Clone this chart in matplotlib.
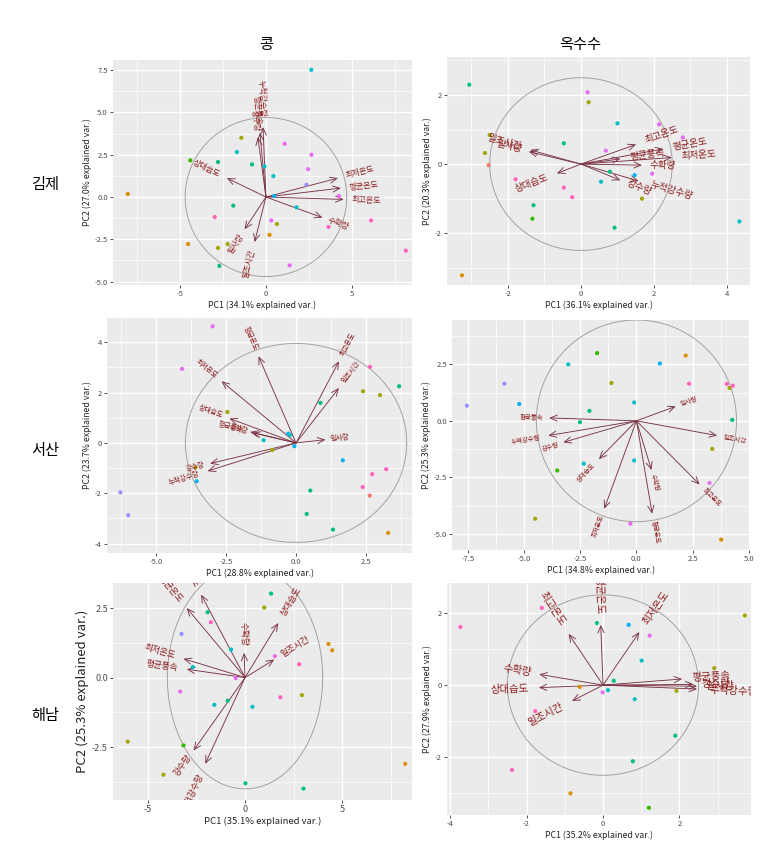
import numpy as np
import matplotlib
matplotlib.use('Agg')
import matplotlib.pyplot as plt
from matplotlib.ticker import AutoMinorLocator

plt.rcParams['font.family'] = ['Noto Sans CJK KR', 'DejaVu Sans']

# 그룹 색 (ggplot hue 팔레트)
grp_colors = ['#F8766D', '#D89000', '#A3A500', '#39B600', '#00BF7D',
              '#00BFC4', '#00B0F6', '#9590FF', '#E76BF3', '#FF62BC']

# ---------------- 김제 / 콩 ----------------
gj_soy_pc1 = [2.64, -1.43, 1.09, -1.69, 2.65, -4.40, -2.79, -0.81, -0.08, 0.43, 2.46, 2.36, 0.48, 4.24,
              -8.04, -1.90, 1.78, -2.98, 0.31, 0.64, 0.21, 6.12, 3.64, 8.14, -4.53, -2.79, -2.23, -2.71, 1.38]
gj_soy_pc2 = [7.52, 3.50, 3.15, 2.66, 2.50, 2.17, 2.07, 1.93, 1.81, 1.24, 1.65, 0.73, 0.06, 0.06,
              0.18, -0.51, -0.61, -1.18, -1.38, -1.60, -2.24, -1.38, -1.77, -3.17, -2.78, -3.01, -2.78, -4.07, -4.04]
gj_soy_grp = [5, 2, 8, 5, 8, 3, 4, 4, 5, 5, 8, 7, 6, 8,
              1, 4, 5, 9, 8, 2, 1, 9, 9, 9, 1, 2, 2, 4, 8]
gj_soy_var = ['최저온도', '평균온도', '최고온도', '수확량', '상대습도', '일사량', '일조시간', '누적강수량', '강수량', '평균풍속']
gj_soy_vx = [4.19, 4.36, 4.52, 3.29, -2.27, -1.24, -0.66, -0.17, -0.47, -0.35]
gj_soy_vy = [1.12, 0.53, -0.14, -1.22, 1.12, -1.91, -2.66, 4.13, 3.54, 3.80]

# ---------------- 김제 / 옥수수 ----------------
gj_corn_pc1 = [-3.06, 0.18, 0.21, 1.00, 2.14, 2.79, -0.47, 0.68, -2.50, -2.63, -2.53, -1.79,
               -0.47, -0.24, 0.79, 0.55, 1.47, 1.95, 1.67, -1.30, -1.33, 0.92, 4.34, -3.26]
gj_corn_pc2 = [2.30, 2.08, 1.79, 1.18, 1.15, 0.77, 0.60, 0.39, 0.84, 0.32, -0.03, -0.44,
               -0.68, -0.96, -0.22, -0.51, -0.32, -0.28, -1.00, -1.19, -1.58, -1.84, -1.66, -3.22]
gj_corn_grp = [4, 8, 2, 5, 8, 8, 4, 8, 2, 2, 0, 9,
               9, 9, 4, 5, 6, 8, 2, 4, 3, 4, 5, 1]
gj_corn_var = ['최고온도', '평균온도', '최저온도', '평균풍속', '수확량', '강수량', '누적강수량', '상대습도', '일사량', '일조시간']
gj_corn_vx = [1.51, 2.26, 2.49, 1.08, 1.67, 1.08, 1.58, -0.66, -1.43, -1.39]
gj_corn_vy = [0.57, 0.44, 0.19, 0.15, -0.03, -0.47, -0.49, -0.27, 0.36, 0.41]

# ---------------- 서산 / 콩 ----------------
ss_soy_pc1 = [-2.98, -4.07, -6.27, -5.99, -2.45, -0.28, -0.22, -1.16, -0.06, -0.85, -3.59, -3.55, 0.87,
              2.64, 2.39, 3.00, 3.68, 1.67, 3.22, 2.72, 2.38, 2.63, 0.51, 0.38, 1.32, 3.29]
ss_soy_pc2 = [4.63, 2.94, -1.96, -2.87, 1.23, 0.37, 0.31, 0.11, -0.13, -0.28, -0.97, -1.52, 1.59,
              3.02, 2.05, 1.90, 2.25, -0.69, -1.04, -1.24, -1.75, -2.09, -1.89, -2.82, -3.44, -3.57]
ss_soy_grp = [8, 8, 7, 7, 2, 6, 5, 5, 6, 2, 2, 6, 4,
              9, 2, 2, 4, 6, 9, 9, 9, 0, 4, 4, 4, 1]
ss_soy_var = ['평균온도', '최고온도', '일조시간', '최저온도', '상대습도', '평균풍속', '수확량', '일사량', '강수량', '누적강수량']
ss_soy_vx = [-1.34, 1.53, 1.53, -2.66, -2.38, -1.64, -1.55, 1.05, -3.07, -3.16]
ss_soy_vy = [3.44, 3.24, 2.18, 2.45, 0.97, 0.44, 0.40, 0.13, -0.82, -1.12]

# ---------------- 서산 / 옥수수 ----------------
ss_corn_pc1 = [-7.54, -5.87, -5.21, -3.03, -1.75, -1.11, 1.04, -0.10, -2.09, -2.51, -2.34, -3.52,
               -0.10, -4.50, -0.27, 2.19, 2.34, 4.02, 4.14, 4.29, 4.26, 3.37, 3.25, 3.77]
ss_corn_pc2 = [0.67, 1.64, 0.74, 2.49, 2.99, 1.67, 2.53, 0.81, 0.44, -0.06, -1.89, -2.19,
               -1.75, -4.32, -4.54, 2.88, 1.64, 1.63, 1.45, 1.55, 0.04, -1.24, -2.74, -5.24]
ss_corn_grp = [7, 7, 6, 5, 3, 2, 6, 5, 4, 4, 5, 3,
               5, 2, 8, 1, 9, 9, 2, 9, 4, 2, 8, 1]
ss_corn_var = ['일사량', '일조시간', '최고온도', '수확량', '평균온도', '최저온도', '상대습도', '강수량', '누적강수량', '평균풍속']
ss_corn_vx = [1.75, 3.59, 2.81, 0.67, 0.70, -1.43, -1.67, -3.25, -3.92, -3.88]
ss_corn_vy = [0.64, -0.65, -2.81, -2.17, -4.10, -3.88, -1.69, -0.95, -0.65, 0.13]

# ---------------- 해남 / 콩 ----------------
hn_soy_pc1 = [1.34, 0.99, -1.93, -1.76, -0.72, -3.27, -2.69, -0.48, -3.34, -1.58, -0.89, 0.38,
              1.54, 2.79, 1.82, 2.93, 4.30, 4.49, -6.04, -3.17, -4.20, 0.02, 3.01, 8.25]
hn_soy_pc2 = [3.02, 2.52, 2.35, 1.99, 1.01, 1.57, 0.38, -0.02, -0.50, -0.98, -0.83, -1.05,
              0.77, 0.48, -0.71, -0.63, 1.21, 0.98, -2.30, -2.44, -3.49, -3.80, -3.99, -3.10]
hn_soy_grp = [4, 2, 4, 9, 5, 7, 5, 8, 8, 5, 4, 5,
              8, 9, 9, 2, 1, 1, 2, 3, 2, 4, 4, 1]
hn_soy_var = ['평균온도', '최고온도', '상대습도', '수확량', '일조시간', '최저온도', '평균풍속', '강수량', '누적강수량']
hn_soy_vx = [-3.00, -2.26, 1.71, -0.05, 1.51, -3.17, -3.00, -2.65, -2.05]
hn_soy_vy = [2.50, 2.98, 1.96, 0.89, 0.65, 0.68, 0.30, -2.62, -3.10]

# ---------------- 해남 / 옥수수 ----------------
hn_corn_pc1 = [-3.73, -1.60, -0.16, 0.67, 1.22, 1.01, 0.28, 0.13, -0.01, -0.61, -1.77, 0.83,
               1.89, 0.78, 1.20, -2.38, -0.85, 2.91, 1.92, 3.71]
hn_corn_pc2 = [1.61, 2.14, 1.72, 1.67, 1.37, 0.68, 0.12, -0.14, -0.20, -0.05, -0.72, -0.39,
               -1.40, -2.11, -3.40, -2.35, -3.00, 0.47, -0.16, 1.93]
hn_corn_grp = [9, 9, 4, 6, 8, 5, 4, 5, 8, 1, 9, 5,
               4, 4, 3, 9, 1, 2, 2, 2]
hn_corn_var = ['최고온도', '평균온도', '최저온도', '수확량', '상대습도', '일조시간', '평균풍속', '강수량', '일사량', '누적강수량']
hn_corn_vx = [-0.90, -0.06, 0.95, -1.67, -1.68, -0.81, 2.07, 2.37, 2.46, 2.46]
hn_corn_vy = [1.42, 1.67, 1.47, 0.30, -0.07, -0.44, 0.17, 0.02, -0.03, -0.11]

# 설명 분산 (%) 및 원 반지름
pc1_pct = [34.1, 36.1, 28.8, 34.8, 35.1, 35.2]
pc2_pct = [27.0, 20.3, 23.7, 25.3, 25.3, 27.9]
circle_r = [4.7, 2.5, 3.95, 4.45, 4.0, 2.5]

row_names = ['김제', '서산', '해남']
col_names = ['콩', '옥수수']

W, H = 770, 855
fig = plt.figure(figsize=(W / 100, H / 100), dpi=100)

# 패널 위치 (픽셀: 좌, 우, 상, 하) 와 축 설정
panels = [
    dict(box=(113, 412, 60, 285), xlim=(-8.9, 8.5), ylim=(-5.2, 8.1),
         xt=[-5, 0, 5], xtl=['-5', '0', '5'],
         yt=[-5, -2.5, 0, 2.5, 5, 7.5], ytl=['-5.0', '-2.5', '0.0', '2.5', '5.0', '7.5'],
         fv=5.8, fx=6.3, fy=6.3, ft=5.5),
    dict(box=(447, 750, 57, 285), xlim=(-3.67, 4.63), ylim=(-3.5, 3.1),
         xt=[-2, 0, 2, 4], xtl=['-2', '0', '2', '4'],
         yt=[-2, 0, 2], ytl=['-2', '0', '2'], fv=6.9, fx=6.3, fy=6.3, ft=5.5),
    dict(box=(107, 412, 318, 553), xlim=(-6.75, 4.14), ylim=(-4.37, 4.96),
         xt=[-5, -2.5, 0, 2.5], xtl=['-5.0', '-2.5', '0.0', '2.5'],
         yt=[-4, -2, 0, 2, 4], ytl=['-4', '-2', '0', '2', '4'], fv=5.0, fx=6.3, fy=6.3, ft=5.5),
    dict(box=(452, 750, 320, 550), xlim=(-8.2, 5.05), ylim=(-5.7, 4.45),
         xt=[-7.5, -5, -2.5, 0, 2.5, 5], xtl=['-7.5', '-5.0', '-2.5', '0.0', '2.5', '5.0'],
         yt=[-5, -2.5, 0, 2.5], ytl=['-5.0', '-2.5', '0.0', '2.5'], fv=4.6, fx=6.3, fy=6.3, ft=5.5),
    dict(box=(113, 412, 583, 800), xlim=(-6.8, 8.6), ylim=(-4.4, 3.4),
         xt=[-5, 0, 5], xtl=['-5', '0', '5'],
         yt=[-2.5, 0, 2.5], ytl=['-2.5', '0.0', '2.5'], fv=6.3, fx=6.8, fy=9.5, ft=6.5),
    dict(box=(447, 751, 583, 815), xlim=(-4.08, 3.87), ylim=(-3.6, 2.83),
         xt=[-4, -2, 0, 2], xtl=['-4', '-2', '0', '2'],
         yt=[-2, 0, 2], ytl=['-2', '0', '2'], fv=7.5, fx=6.3, fy=6.3, ft=5.5),
]

data = [
    (gj_soy_pc1, gj_soy_pc2, gj_soy_grp, gj_soy_var, gj_soy_vx, gj_soy_vy),
    (gj_corn_pc1, gj_corn_pc2, gj_corn_grp, gj_corn_var, gj_corn_vx, gj_corn_vy),
    (ss_soy_pc1, ss_soy_pc2, ss_soy_grp, ss_soy_var, ss_soy_vx, ss_soy_vy),
    (ss_corn_pc1, ss_corn_pc2, ss_corn_grp, ss_corn_var, ss_corn_vx, ss_corn_vy),
    (hn_soy_pc1, hn_soy_pc2, hn_soy_grp, hn_soy_var, hn_soy_vx, hn_soy_vy),
    (hn_corn_pc1, hn_corn_pc2, hn_corn_grp, hn_corn_var, hn_corn_vx, hn_corn_vy),
]

arrow_col = '#7a3445'
text_col = '#8B1A1A'

for i, (p, d) in enumerate(zip(panels, data)):
    l, r, t, b = p['box']
    ax = fig.add_axes([l / W, 1 - b / H, (r - l) / W, (b - t) / H])
    ax.set_xlim(*p['xlim'])
    ax.set_ylim(*p['ylim'])
    ax.set_facecolor('#EBEBEB')
    for s in ax.spines.values():
        s.set_visible(False)
    ax.set_xticks(p['xt'])
    ax.set_xticklabels(p['xtl'])
    ax.set_yticks(p['yt'])
    ax.set_yticklabels(p['ytl'])
    ax.xaxis.set_minor_locator(AutoMinorLocator(2))
    ax.yaxis.set_minor_locator(AutoMinorLocator(2))
    ax.grid(which='major', color='white', lw=1.0)
    ax.grid(which='minor', color='white', lw=0.5)
    ax.set_axisbelow(True)
    ax.tick_params(which='major', length=2.2, width=0.6, color='#333333',
                   labelsize=p['ft'], labelcolor='#4D4D4D', pad=1.5)
    ax.tick_params(which='minor', length=0)
    ax.set_xlabel('PC1 (%.1f%% explained var.)' % pc1_pct[i], fontsize=p['fx'],
                  color='#222222', labelpad=2)
    ax.set_ylabel('PC2 (%.1f%% explained var.)' % pc2_pct[i], fontsize=p['fy'],
                  color='#222222', labelpad=2)

    pc1, pc2, grp, names, vx, vy = d

    # 원
    th = np.linspace(0, 2 * np.pi, 300)
    ax.plot(circle_r[i] * np.cos(th), circle_r[i] * np.sin(th), color='#A8A0A0',
            lw=0.7, zorder=1)

    # 변수 화살표
    for x, y in zip(vx, vy):
        ax.annotate('', xy=(x, y), xytext=(0, 0),
                    arrowprops=dict(arrowstyle='->,head_length=0.5,head_width=0.22',
                                    color=arrow_col, lw=0.65, shrinkA=0, shrinkB=0),
                    zorder=2)

    # 점
    ax.scatter(pc1, pc2, s=9, c=[grp_colors[g] for g in grp], edgecolors='none', zorder=3)

    # 변수 이름 (패널 밖은 잘림)
    for name, x, y in zip(names, vx, vy):
        p0, p1 = ax.transData.transform([(0, 0), (x, y)])
        dx, dy = p1 - p0
        ang = np.degrees(np.arctan(dy / dx)) if dx != 0 else 90.0
        sgn = 1 if dx >= 0 else -1
        off = 0.25 * len(name) * p['fv']
        txt = ax.annotate(name, xy=(x, y), textcoords='offset points',
                          xytext=(sgn * off * np.cos(np.radians(ang)), sgn * off * np.sin(np.radians(ang))),
                          ha='left' if sgn > 0 else 'right', va='center',
                          rotation=ang, rotation_mode='anchor',
                          fontsize=p['fv'], color=text_col, zorder=4,
                          annotation_clip=False)
        txt.set_clip_on(True)
        txt.set_clip_box(ax.bbox)

# 행/열 제목
for name, xc in zip(col_names, [266, 580]):
    fig.text(xc / W, 1 - 44 / H, name, ha='center', va='center', fontsize=11)
for name, yc in zip(row_names, [185, 450, 715]):
    fig.text(45 / W, 1 - yc / H, name, ha='center', va='center', fontsize=11)

fig.savefig('out.png', dpi=100)
